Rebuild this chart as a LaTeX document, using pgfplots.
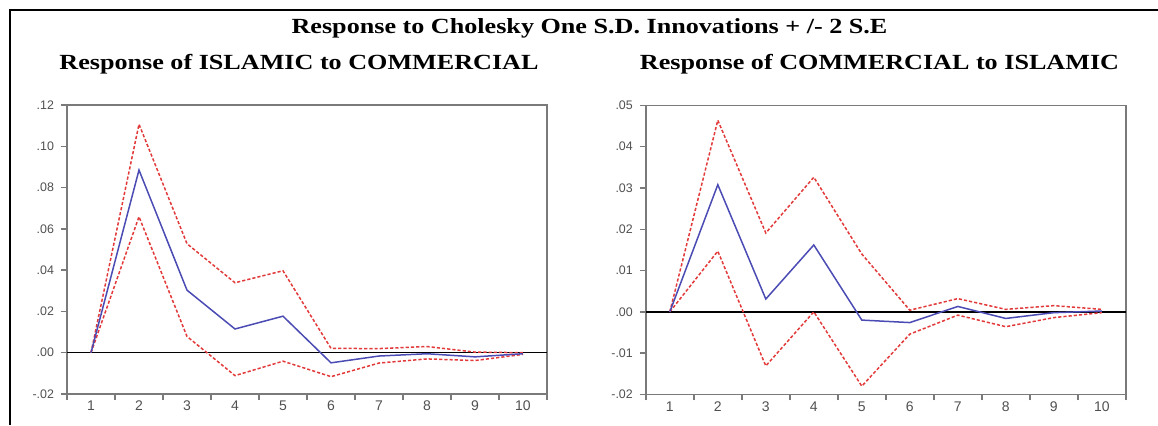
\documentclass[border=0pt]{standalone}
\usepackage{fontspec}
\usepackage{graphicx}
\usepackage{pgfplots}
\pgfplotsset{compat=1.18}
\setmainfont{Liberation Serif}
\newfontfamily\tickfont{Liberation Sans}
\definecolor{irfblue}{HTML}{4B4BB4}
\definecolor{irfred}{HTML}{E23A3A}
\definecolor{axgray}{HTML}{7A7A7A}
\definecolor{lblgray}{HTML}{505050}
\pgfplotsset{
  irf/.style={
    scale only axis,
    width=240pt, height=144.5pt,
    anchor=south west,
    xmin=0.5, xmax=10.5,
    axis line style={axgray, line width=0.8pt},
    tick style={axgray, line width=0.7pt},
    tick align=outside,
    xtick pos=lower, ytick pos=left,
    major tick length=3pt,
    scaled y ticks=false,
    xtick={0.5,1.5,...,10.5},
    xticklabels={},
    extra x ticks={1,2,3,4,5,6,7,8,9,10},
    extra x tick labels={1,2,3,4,5,6,7,8,9,10},
    extra x tick style={major tick length=0pt},
    x tick label style={font=\tickfont\fontsize{7}{8}\selectfont, text=lblgray},
    y tick label style={font=\tickfont\fontsize{6.2}{7}\selectfont, text=lblgray},
    xlabel={}, ylabel={},
    clip=false,
  },
  mid/.style={irfblue, line width=0.75pt, no marks},
  band/.style={irfred, line width=0.75pt, no marks, dash pattern=on 1.6pt off 1pt},
  zero/.style={black, line width=0.7pt, no marks},
}
\begin{document}
\begin{tikzpicture}
\path[use as bounding box] (0,0) rectangle (579pt,212.5pt);
\draw[black, line width=1.1pt] (5pt,0) -- (5pt,207.5pt) -- (579pt,207.5pt);
\node[anchor=base] at (294.75pt,196pt) {\scalebox{1.21}[1]{\fontsize{10.8}{13}\selectfont\bfseries Response to Cholesky One S.D. Innovations + /- 2 S.E}};
\node[anchor=base] at (149.5pt,177.8pt) {\scalebox{1.21}[1]{\fontsize{10.8}{13}\selectfont\bfseries Response of ISLAMIC to COMMERCIAL}};
\node[anchor=base] at (439.75pt,177.8pt) {\scalebox{1.21}[1]{\fontsize{10.8}{13}\selectfont\bfseries Response of COMMERCIAL to ISLAMIC}};

\begin{axis}[irf, at={(33.5pt,15.5pt)},
  ymin=-0.02, ymax=0.12,
  ytick={-0.02,0,0.02,0.04,0.06,0.08,0.10,0.12},
  yticklabels={-.02,.00,.02,.04,.06,.08,.10,.12}]
\addplot[zero] coordinates {(0.5,0) (10.5,0)};
\addplot[band] coordinates {(1,0) (2,0.1107) (3,0.0528) (4,0.0339) (5,0.0397) (6,0.0021) (7,0.0020) (8,0.0030) (9,0.0003) (10,0.0000)};
\addplot[band] coordinates {(1,0) (2,0.0659) (3,0.0079) (4,-0.0111) (5,-0.0041) (6,-0.0116) (7,-0.0050) (8,-0.0030) (9,-0.0038) (10,-0.0008)};
\addplot[mid] coordinates {(1,0) (2,0.0885) (3,0.0303) (4,0.0115) (5,0.0177) (6,-0.0049) (7,-0.0016) (8,-0.0005) (9,-0.0020) (10,-0.0005)};
\end{axis}

\begin{axis}[irf, at={(322.9pt,15.3pt)},
  ymin=-0.02, ymax=0.05,
  ytick={-0.02,-0.01,0,0.01,0.02,0.03,0.04,0.05},
  yticklabels={-.02,-.01,.00,.01,.02,.03,.04,.05}]
\addplot[zero] coordinates {(0.5,0) (10.5,0)};
\addplot[band] coordinates {(1,0) (2,0.0464) (3,0.0191) (4,0.0326) (5,0.0140) (6,0.0004) (7,0.0032) (8,0.0006) (9,0.0015) (10,0.0006)};
\addplot[band] coordinates {(1,0) (2,0.0147) (3,-0.0131) (4,0.0000) (5,-0.0180) (6,-0.0054) (7,-0.0008) (8,-0.0036) (9,-0.0014) (10,-0.0002)};
\addplot[mid] coordinates {(1,0) (2,0.0308) (3,0.0031) (4,0.0162) (5,-0.0020) (6,-0.0026) (7,0.0013) (8,-0.0016) (9,-0.0002) (10,0.0002)};
\end{axis}
\end{tikzpicture}
\end{document}
